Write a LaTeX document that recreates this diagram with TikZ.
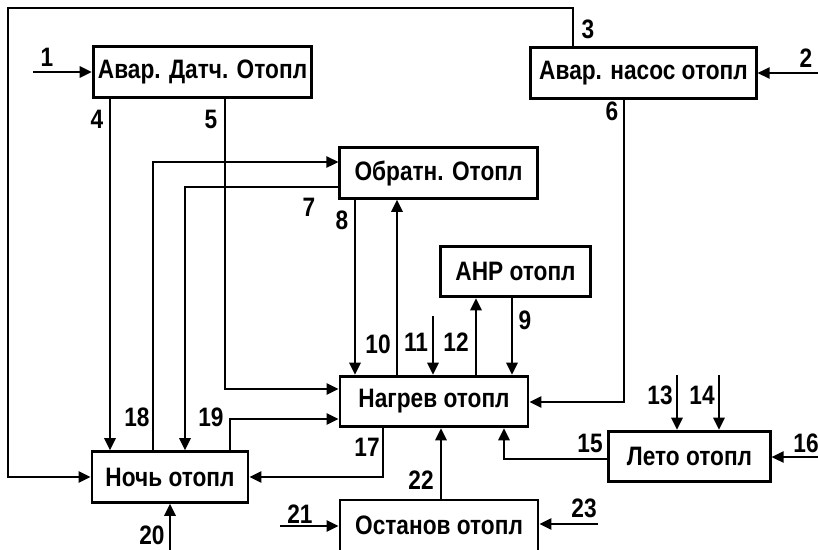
\documentclass[tikz,border=0pt]{standalone}
\usepackage{fontspec}
\setmainfont{Liberation Sans}[FakeStretch=0.85]
\usetikzlibrary{arrows.meta}
\begin{document}
\begin{tikzpicture}[x=0.75pt,y=-0.75pt]
    \tikzstyle{blk}=[draw, line width=2.2pt, inner sep=0pt, minimum height=38pt, font=\bfseries\fontsize{20}{22}\selectfont]
    \tikzstyle{ln}=[line width=1.4pt]
    \tikzstyle{arr}=[ln, -{Triangle[length=9pt,width=8.5pt]}]
    \tikzstyle{num}=[inner sep=0pt, font=\bfseries\fontsize{20}{22}\selectfont]
    \useasboundingbox (0,0) rectangle (818,550);
    \clip (0,0) rectangle (818,550);
    % blocks
    \node[blk, minimum width=164pt] (avd) at (202.5,72) {Авар. Датч. Отопл};
    \node[blk, minimum width=169pt] (avn) at (643.5,73) {Авар. насос отопл};
    \node[blk, minimum width=148pt] (obr) at (438.5,173) {Обратн. Отопл};
    \node[blk, minimum width=113pt] (ahp) at (515.5,271.5) {АНР отопл};
    \node[blk, minimum width=141pt] (nag) at (434,401.5) {Нагрев отопл};
    \node[blk, minimum width=117pt] (noch) at (170,477) {Ночь отопл};
    \node[blk, minimum width=121pt] (leto) at (689.5,456.5) {Лето отопл};
    \node[blk, minimum width=148.5pt, minimum height=45pt] (ost) at (439,530) {};
    \node[font=\bfseries\fontsize{20}{22}\selectfont] (ostt) at (439,525) {Останов отопл};
    % points of the connectors
    \coordinate (in1) at (33,72);
    \coordinate (in2) at (818,73);
    \coordinate (c3) at (573,8);
    \coordinate (fr) at (8,8);
    \coordinate (c4) at (110,0);
    \coordinate (c5) at (225,389);
    \coordinate (c6) at (624,402);
    \coordinate (c7) at (185,187);
    \coordinate (c8) at (355,0);
    \coordinate (c9) at (512,0);
    \coordinate (c10) at (397,0);
    \coordinate (c11) at (433,316);
    \coordinate (c12) at (476,0);
    \coordinate (c13) at (677,375);
    \coordinate (c14) at (719,375);
    \coordinate (c15) at (504,459);
    \coordinate (c16) at (818,457);
    \coordinate (c17) at (383,477);
    \coordinate (c18) at (153,162);
    \coordinate (c19) at (230,419);
    \coordinate (c20) at (170,550);
    \coordinate (c21) at (280,526);
    \coordinate (c22) at (441,0);
    \coordinate (c23) at (598,524);
    % connectors
    \draw[arr] (in1) -- (in1 -| avd.west);
    \draw[arr] (in2) -- (in2 -| avn.east);
    \draw[arr] (avn.north -| c3) -- (c3) -- (fr) |- (noch.west);
    \draw[arr] (avd.south -| c4) -- (noch.north -| c4);
    \draw[arr] (avd.south -| c5) |- (nag.west |- c5);
    \draw[arr] (avn.south -| c6) |- (nag.east |- c6);
    \draw[arr] (obr.west |- c7) -| (noch.north -| c7);
    \draw[arr] (obr.south -| c8) -- (nag.north -| c8);
    \draw[arr] (ahp.south -| c9) -- (nag.north -| c9);
    \draw[arr] (nag.north -| c10) -- (obr.south -| c10);
    \draw[arr] (c11) -- (nag.north -| c11);
    \draw[arr] (nag.north -| c12) -- (ahp.south -| c12);
    \draw[arr] (c13) -- (leto.north -| c13);
    \draw[arr] (c14) -- (leto.north -| c14);
    \draw[arr] (leto.west |- c15) -| (nag.south -| c15);
    \draw[arr] (c16) -- (leto.east |- c16);
    \draw[arr] (nag.south -| c17) |- (noch.east);
    \draw[arr] (noch.north -| c18) |- (obr.west |- c18);
    \draw[arr] (noch.north -| c19) |- (nag.west |- c19);
    \draw[arr] (c20) -- (noch.south);
    \draw[arr] (c21) -- (ost.west |- c21);
    \draw[arr] (ost.north -| c22) -- (nag.south -| c22);
    \draw[arr] (c23) -- (ost.east |- c23);
    % numbers
    \foreach \n/\x/\y in {1/47/57, 2/806/58, 3/588/29, 4/97/119, 5/211/119, 6/612/111,
        7/309/207, 8/342/220, 9/525/320, 10/378/344, 11/416/342, 12/456/342,
        13/660/395, 14/702/395, 15/590/443, 16/806/443, 17/367/447, 18/137/417,
        19/211/417, 20/152/535, 21/300/514, 22/421/480, 23/584/508}
        \node[num] (n\n) at (\x,\y) {\n};
\end{tikzpicture}
\end{document}
